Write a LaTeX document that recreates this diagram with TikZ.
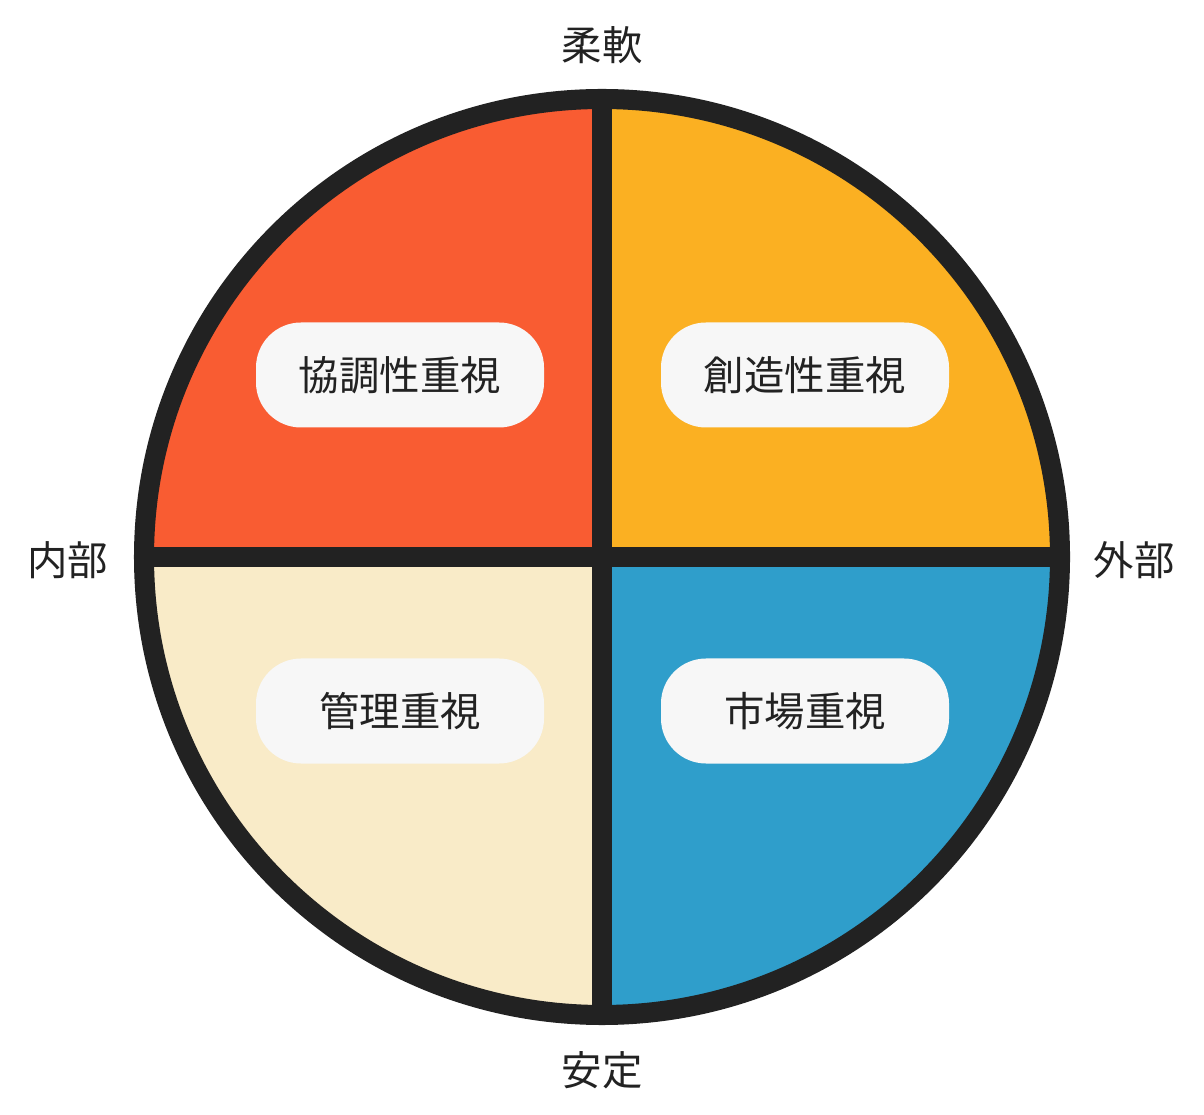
\documentclass[tikz,border=0pt]{standalone}
\usepackage{fontspec}
\newfontfamily\cjk{Noto Sans CJK JP}
\definecolor{ringcol}{HTML}{222222}
\definecolor{redq}{HTML}{F95C32}
\definecolor{orangeq}{HTML}{FBB022}
\definecolor{creamq}{HTML}{F9EBC8}
\definecolor{blueq}{HTML}{2F9ECB}
\definecolor{boxcol}{HTML}{F7F7F7}
\tikzset{
	tagbox/.style={fill=boxcol, rounded corners=0.45cm, minimum width=2.88cm, minimum height=1.05cm, font=\cjk\fontsize{11.5}{14}\selectfont, text=ringcol},
	axislabel/.style={font=\cjk\fontsize{11.5}{14}\selectfont, text=ringcol}
}
\begin{document}
\begin{tikzpicture}
	\useasboundingbox (0,0) rectangle (12.04,11.14);
	\coordinate (c) at (6.02,5.57);

	% quadrants
	\fill[redq] (c) -- (10.60,5.57) arc (0:0:4.58) -- cycle;
	\fill[redq] (c) -- ++(90:4.58) arc (90:180:4.58) -- cycle;
	\fill[orangeq] (c) -- ++(0:4.58) arc (0:90:4.58) -- cycle;
	\fill[creamq] (c) -- ++(180:4.58) arc (180:270:4.58) -- cycle;
	\fill[blueq] (c) -- ++(270:4.58) arc (270:360:4.58) -- cycle;

	% cross and ring
	\draw[ringcol, line width=5.7pt] (c) ++(0,4.58) -- ++(0,-9.16);
	\draw[ringcol, line width=5.7pt] (c) ++(-4.58,0) -- ++(9.16,0);
	\draw[ringcol, line width=5.7pt] (c) circle (4.58);

	\node[tagbox] (collab) at (4.00,7.39) {協調性重視};
	\node[tagbox] (create) at (8.05,7.39) {創造性重視};
	\node[tagbox] (manage) at (4.00,4.03) {管理重視};
	\node[tagbox] (market) at (8.05,4.03) {市場重視};

	\node[axislabel] (flex) at (6.02,10.69) {柔軟};
	\node[axislabel] (stable) at (6.02,0.44) {安定};
	\node[axislabel] (inner) at (0.68,5.54) {内部};
	\node[axislabel] (outer) at (11.34,5.54) {外部};
\end{tikzpicture}
\end{document}
